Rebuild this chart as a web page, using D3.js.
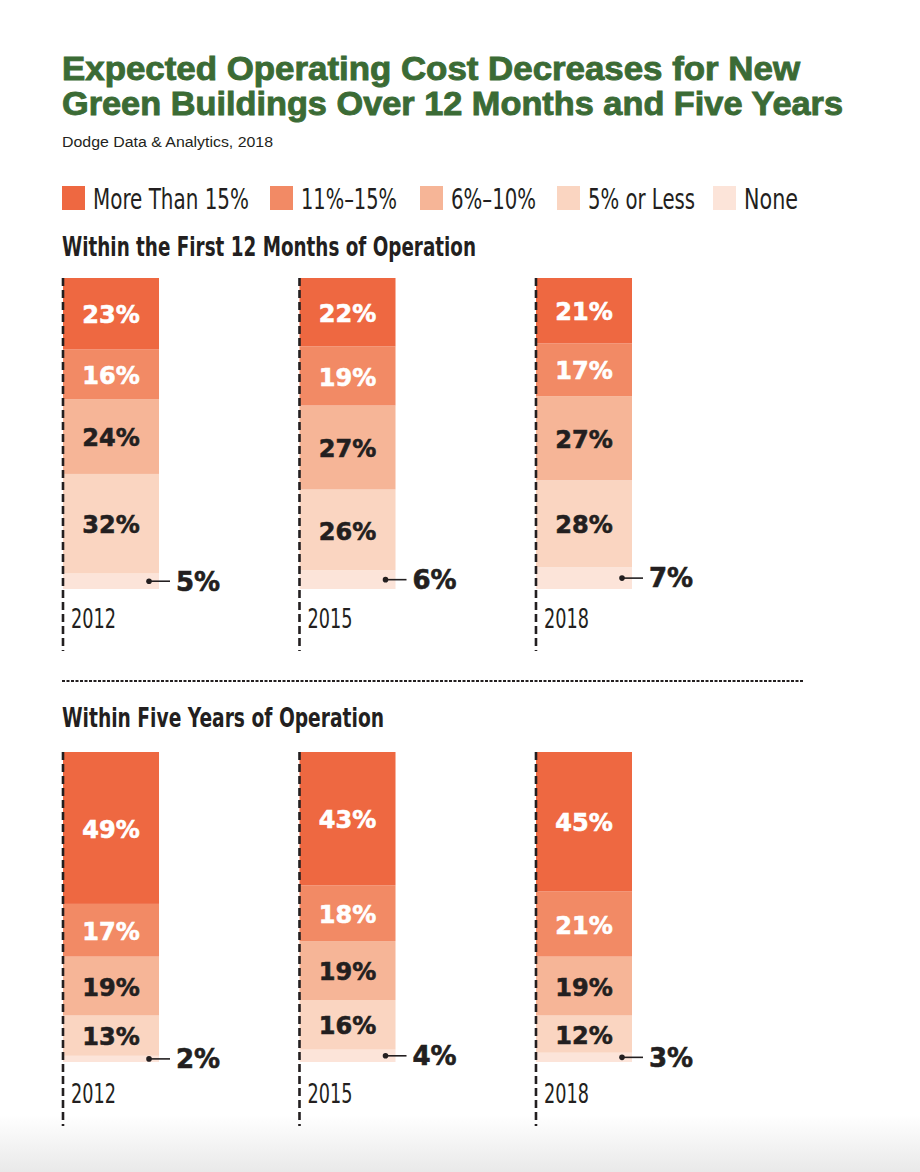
<!DOCTYPE html>
<html>
<head>
<meta charset="utf-8">
<script src="https://cdn.jsdelivr.net/npm/d3@7"></script>
<style>
  html, body { margin: 0; padding: 0; background: #fff; }
  svg { display: block; }
  .narrow { font-family: "Liberation Sans Narrow", "DejaVu Sans Condensed", "Arial Narrow", sans-serif; }
</style>
</head>
<body>
<svg id="chart" width="920" height="1172"></svg>
<script>
// ---------- data ----------
const years = ["2012", "2015", "2018"];
const categories = ["More Than 15%", "11%\u201315%", "6%\u201310%", "5% or Less", "None"];
const keys = ["more15", "p11to15", "p6to10", "p5orLess", "none"];

// Within the first 12 months of operation
const months12_more15   = [23, 22, 21];
const months12_p11to15  = [16, 19, 17];
const months12_p6to10   = [24, 27, 27];
const months12_p5orLess = [32, 26, 28];
const months12_none     = [5, 6, 7];

// Within five years of operation
const years5_more15   = [49, 43, 45];
const years5_p11to15  = [17, 18, 21];
const years5_p6to10   = [19, 19, 19];
const years5_p5orLess = [13, 16, 12];
const years5_none     = [2, 4, 3];

const colors = ["#EE6841", "#F28A65", "#F6B597", "#FAD5C1", "#FCE4D9"];
const labelColors = ["#ffffff", "#ffffff", "#231f20", "#231f20", "#231f20"];

function rows(m, a, b, c, d) {
  return years.map((y, i) => ({ year: y, more15: m[i], p11to15: a[i], p6to10: b[i], p5orLess: c[i], none: d[i] }));
}
const data12 = rows(months12_more15, months12_p11to15, months12_p6to10, months12_p5orLess, months12_none);
const data5 = rows(years5_more15, years5_p11to15, years5_p6to10, years5_p5orLess, years5_none);

// ---------- drawing ----------
const svg = d3.select("#chart");
const ink = "#231f20";

// bottom shading
const defs = svg.append("defs");
const grad = defs.append("linearGradient").attr("id", "bottomShade").attr("x1", 0).attr("x2", 0).attr("y1", 0).attr("y2", 1);
grad.append("stop").attr("offset", "0%").attr("stop-color", "#ffffff");
grad.append("stop").attr("offset", "100%").attr("stop-color", "#e9e9e9");
svg.append("rect").attr("x", 0).attr("y", 1115).attr("width", 920).attr("height", 57).attr("fill", "url(#bottomShade)");

// title
const titleColor = "#3b6b35";
const titleLines = ["Expected Operating Cost Decreases for New", "Green Buildings Over 12 Months and Five Years"];
const titleWidths = [738, 781];
svg.selectAll("text.title").data(titleLines).join("text")
  .attr("class", "title")
  .attr("x", 62).attr("y", (d, i) => 80 + i * 35)
  .attr("font-family", "'Liberation Sans', Arial, sans-serif")
  .attr("font-weight", "bold").attr("font-size", 33)
  .attr("fill", titleColor).attr("stroke", titleColor).attr("stroke-width", 0.9)
  .attr("textLength", (d, i) => titleWidths[i]).attr("lengthAdjust", "spacingAndGlyphs")
  .text(d => d);

svg.append("text").attr("x", 62).attr("y", 147)
  .attr("font-family", "'Liberation Sans', Arial, sans-serif").attr("font-size", 14)
  .attr("textLength", 211).attr("lengthAdjust", "spacingAndGlyphs")
  .attr("fill", ink).text("Dodge Data & Analytics, 2018");

// legend
const legendX = [62, 270, 420, 557, 713];
const legendW = [156, 96, 85, 107, 54];
const legend = svg.append("g");
categories.forEach((c, i) => {
  legend.append("rect").attr("x", legendX[i]).attr("y", 186).attr("width", 23).attr("height", 24).attr("fill", colors[i]);
  legend.append("text").attr("class", "narrow").attr("x", legendX[i] + 31).attr("y", 209)
    .attr("font-size", 29).attr("fill", ink)
    .attr("textLength", legendW[i]).attr("lengthAdjust", "spacingAndGlyphs")
    .text(c);
});

// panels
function drawPanel(data, yTop, yBottom, heading, headingY, headingW, axisEnd, yearY) {
  const x = d3.scaleBand().domain(years).range([63, 632]).paddingInner(0.594).paddingOuter(0).align(0);
  const y = d3.scaleLinear().domain([0, 100]).range([yBottom, yTop]);
  const stack = d3.stack().keys(keys.slice().reverse());
  const series = stack(data);
  const g = svg.append("g");

  g.append("text").attr("class", "narrow").attr("x", 62).attr("y", headingY)
    .attr("font-size", 27).attr("font-weight", "bold").attr("fill", ink)
    .attr("textLength", headingW).attr("lengthAdjust", "spacingAndGlyphs")
    .text(heading);

  series.forEach(s => {
    const ki = keys.indexOf(s.key);
    g.selectAll(null).data(s).join("rect")
      .attr("x", d => x(d.data.year)).attr("width", x.bandwidth())
      .attr("y", d => y(d[1])).attr("height", d => y(d[0]) - y(d[1]))
      .attr("fill", colors[ki]);
    if (s.key !== "none") {
      g.selectAll(null).data(s).join("text")
        .attr("x", d => x(d.data.year) + x.bandwidth() / 2)
        .attr("y", d => (y(d[0]) + y(d[1])) / 2 + 1)
        .attr("dy", "0.36em")
        .attr("text-anchor", "middle")
        .attr("font-family", "'DejaVu Sans', sans-serif").attr("font-weight", "bold").attr("font-size", 24)
        .attr("fill", labelColors[ki]).attr("stroke", labelColors[ki]).attr("stroke-width", 0.6)
        .text(d => d.data[s.key] + "%");
    } else {
      s.forEach(d => {
        const cy = (y(d[0]) + y(d[1])) / 2;
        const right = x(d.data.year) + x.bandwidth();
        g.append("circle").attr("cx", right - 10).attr("cy", cy).attr("r", 2.8).attr("fill", ink);
        g.append("line").attr("x1", right - 10).attr("x2", right + 11).attr("y1", cy).attr("y2", cy)
          .attr("stroke", ink).attr("stroke-width", 1.6);
        g.append("text").attr("x", right + 17).attr("y", cy).attr("dy", "0.36em")
          .attr("font-family", "'DejaVu Sans', sans-serif").attr("font-weight", "bold").attr("font-size", 26)
          .attr("fill", ink).attr("stroke", ink).attr("stroke-width", 0.6)
          .text(d.data.none + "%");
      });
    }
  });

  // dashed axes and year labels
  years.forEach(yr => {
    g.append("line").attr("x1", x(yr)).attr("x2", x(yr)).attr("y1", yTop).attr("y2", axisEnd)
      .attr("stroke", ink).attr("stroke-width", 2.6).attr("stroke-dasharray", "8,4");
    g.append("text").attr("class", "narrow").attr("x", x(yr) + 8).attr("y", yearY)
      .attr("font-size", 27).attr("fill", ink)
      .attr("textLength", 45).attr("lengthAdjust", "spacingAndGlyphs")
      .text(yr);
  });
}

drawPanel(data12, 278, 589, "Within the First 12 Months of Operation", 256, 414, 651, 628);

// separator
svg.append("line").attr("x1", 62).attr("x2", 803).attr("y1", 681).attr("y2", 681)
  .attr("stroke", ink).attr("stroke-width", 2).attr("stroke-dasharray", "3,1.5");

drawPanel(data5, 752, 1062, "Within Five Years of Operation", 727, 322, 1126, 1103);
</script>
</body>
</html>
